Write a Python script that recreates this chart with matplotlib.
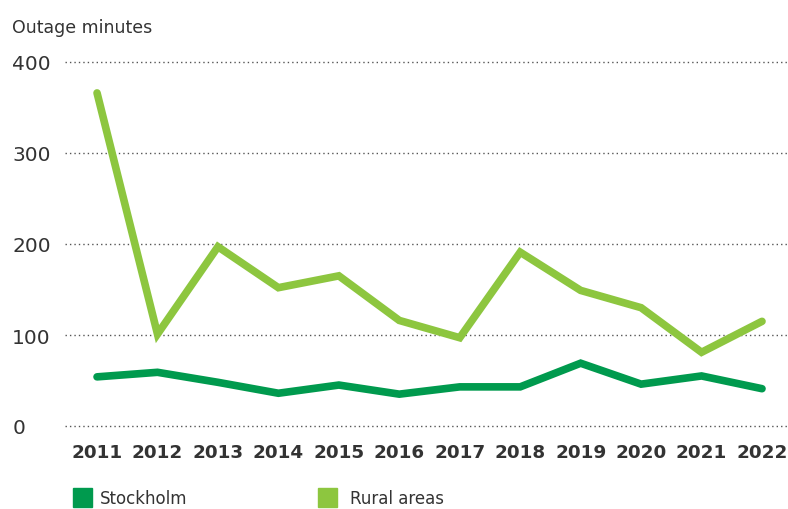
import matplotlib.pyplot as plt
from matplotlib.patches import Rectangle

# Outage minutes per year
years = [2011, 2012, 2013, 2014, 2015, 2016, 2017, 2018, 2019, 2020, 2021, 2022]
stockholm = [54, 59, 48, 36, 45, 35, 43, 43, 69, 46, 55, 41]
rural = [366, 101, 197, 152, 165, 116, 97, 191, 149, 130, 81, 115]
yticks = [0, 100, 200, 300, 400]

dark_green = '#009a4e'
light_green = '#8dc63f'
text_col = '#333333'

fig = plt.figure(figsize=(7.88, 5.1), dpi=100)
ax = fig.add_axes([65 / 788, 1 - 427 / 510, 1 - 65 / 788, (427 - 63) / 510])

ax.plot(years, stockholm, color=dark_green, lw=5.5, solid_capstyle='round', solid_joinstyle='miter', zorder=3)
ax.plot(years, rural, color=light_green, lw=5.5, solid_capstyle='round', solid_joinstyle='miter', zorder=3)

ax.set_xlim(2010.47, 2022.43)
ax.set_ylim(0, 400)
ax.set_yticks(yticks)
ax.set_xticks(years)
ax.set_xticklabels([str(y) for y in years], fontsize=13.2, fontweight='bold', color=text_col)
ax.set_yticklabels([str(v) for v in yticks], fontsize=14.5, color=text_col)
for lbl in ax.get_yticklabels():
    lbl.set_ha('left')
ax.tick_params(axis='y', length=0, pad=38)
ax.tick_params(axis='x', length=0, pad=12)

ax.grid(axis='y', color='#555555', linestyle=(0, (1, 2.2)), linewidth=1)
for gl in ax.get_ygridlines():
    gl.set_clip_on(False)
ax.set_axisbelow(True)
for s in ax.spines.values():
    s.set_visible(False)

fig.text(12 / 788, 1 - 28 / 510, 'Outage minutes', fontsize=12.5, color=text_col, va='center', ha='left')

# legend
fig.patches.append(Rectangle((73 / 788, 2 / 510), 19 / 788, 19 / 510,
                             transform=fig.transFigure, color=dark_green))
fig.text(100 / 788, 1 - 499 / 510, 'Stockholm', fontsize=12, color=text_col, va='center', ha='left')
fig.patches.append(Rectangle((318 / 788, 2 / 510), 19 / 788, 19 / 510,
                             transform=fig.transFigure, color=light_green))
fig.text(350 / 788, 1 - 499 / 510, 'Rural areas', fontsize=12, color=text_col, va='center', ha='left')

fig.savefig('out.png', dpi=100)
